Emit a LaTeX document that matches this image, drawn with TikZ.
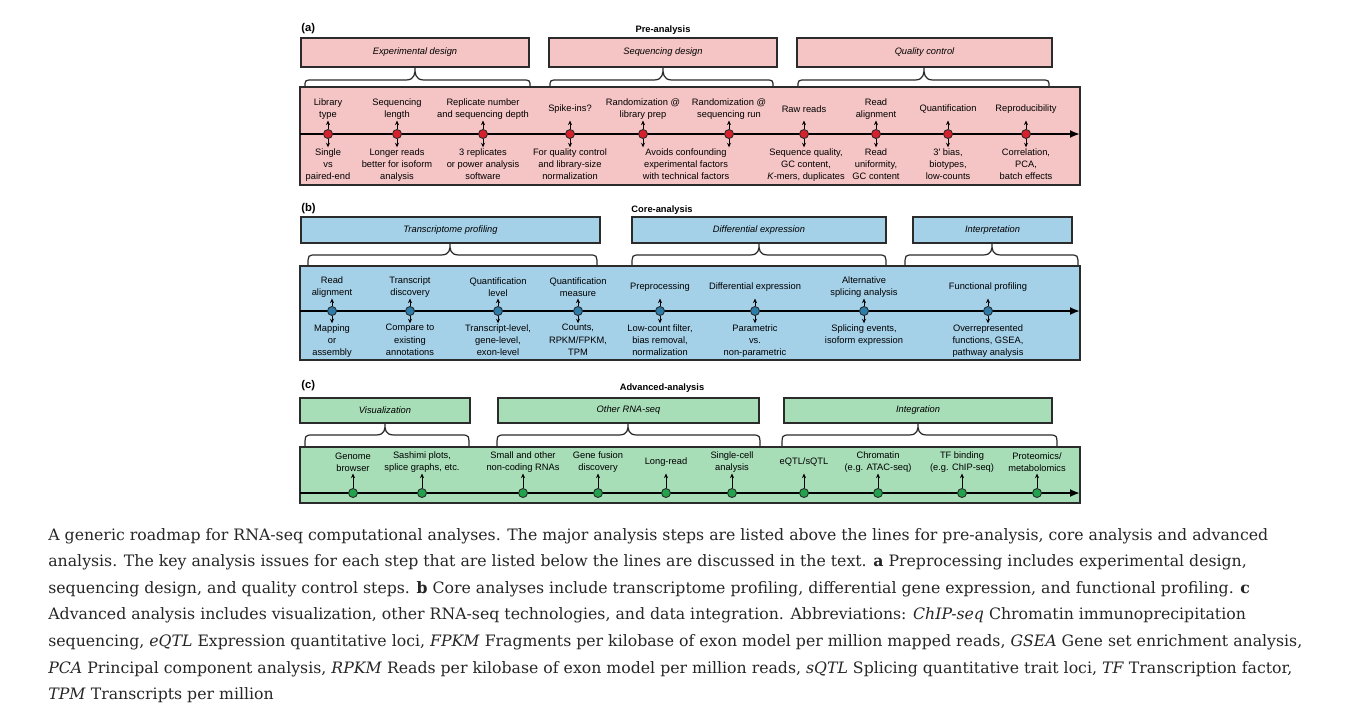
\documentclass[tikz,border=0pt]{standalone}
\usepackage{fontspec}
\setmainfont{DejaVu Serif}
\setsansfont{Liberation Sans}
\usepackage{xcolor}
\usepackage{tikz}
\usetikzlibrary{arrows.meta}
\definecolor{preb}{HTML}{F5C5C5}
\definecolor{coreb}{HTML}{A4D0E8}
\definecolor{advb}{HTML}{A7DDB7}
\definecolor{pred}{HTML}{D8202C}
\definecolor{cored}{HTML}{2C7DAA}
\definecolor{advd}{HTML}{22A24C}
\definecolor{linec}{HTML}{2B2B2B}
\definecolor{capc}{HTML}{262626}
\tikzset{
  lbl/.style={font=\sffamily\fontsize{5.3}{7}\selectfont,align=center,inner sep=0pt},
  toplbl/.style={lbl,minimum height=12pt},
  botlbl/.style={lbl,anchor=north},
  hd/.style={draw=linec,line width=0.8pt},
  hdt/.style={font=\sffamily\itshape\fontsize{5.3}{7}\selectfont,inner sep=0pt},
  bnd/.style={draw=linec,line width=0.8pt},
  brc/.style={draw=linec,line width=0.7pt},
  ax/.style={-{Latex[length=2mm,width=1.6mm]},line width=1.1pt,black},
  tk/.style={-{Stealth[length=0.9mm,width=0.8mm]},line width=0.4pt,black,shorten >=0.4pt},
  nd/.style={circle,draw=linec,line width=0.5pt,minimum size=0.18cm,inner sep=0pt},
  ttl/.style={font=\sffamily\bfseries\fontsize{5.3}{7}\selectfont,inner sep=0pt},
  pnl/.style={font=\sffamily\bfseries\fontsize{6.4}{7}\selectfont,inner sep=0pt,anchor=west},
  captxt/.style={font=\fontsize{8.95}{11}\selectfont,anchor=base west,inner sep=0pt,text=capc}
}
% brace: left x, peak x, right x, peak y, line y, end y
\newcommand{\pbrace}[6]{%
  \draw[brc] (#1,#6) .. controls (#1,#5) .. ({#1+8},#5) -- ({#2-9},#5)
    .. controls (#2,#5) and (#2,{#4+5}) .. (#2,#4)
    .. controls (#2,{#4+5}) and (#2,#5) .. ({#2+9},#5) -- ({#3-8},#5)
    .. controls (#3,#5) .. (#3,#6);}

\begin{document}
\begin{tikzpicture}[x=0.02cm,y=-0.02cm]
\fill[white] (0,0) rectangle (1349,707);
\useasboundingbox (0,0) rectangle (1349,707);

% (a) pre-analysis
\node[pnl] (tla) at (301,29) {(a)};
\node[ttl] (tta) at (663,30) {Pre-analysis};
\draw[bnd,fill=preb] (300,87) rectangle (1080,185);
\draw[hd,fill=preb] (301,38) rectangle (529,67) node[hdt,midway] (ha1) {Experimental design};
\draw[hd,fill=preb] (549,38) rectangle (777,67) node[hdt,midway] (ha2) {Sequencing design};
\draw[hd,fill=preb] (797,38) rectangle (1052,67) node[hdt,midway] (ha3) {Quality control};
\pbrace{305}{415}{530}{68}{80}{87}
\pbrace{550}{663}{773}{68}{80}{87}
\pbrace{798}{924}{1049}{68}{80}{87}
\coordinate (a0) at (300,134);
\coordinate (aend) at (1080,134);
\draw[ax] (a0) -- (aend);
\node[nd,fill=pred] (a1) at (328,134) {};
\node[nd,fill=pred] (a2) at (397,134) {};
\node[nd,fill=pred] (a3) at (483,134) {};
\node[nd,fill=pred] (a4) at (570,134) {};
\node[nd,fill=pred] (a5) at (643,134) {};
\node[nd,fill=pred] (a6) at (729,134) {};
\node[nd,fill=pred] (a7) at (804,134) {};
\node[nd,fill=pred] (a8) at (876,134) {};
\node[nd,fill=pred] (a9) at (948,134) {};
\node[nd,fill=pred] (a10) at (1026,134) {};
\node[toplbl] (ta1) at (328,109) {Library\\type};
\node[toplbl] (ta2) at (397,109) {Sequencing\\length};
\node[toplbl] (ta3) at (483,109) {Replicate number\\and sequencing depth};
\node[toplbl] (ta4) at (570,109) {Spike-ins?};
\node[toplbl] (ta5) at (643,109) {Randomization @\\library prep};
\node[toplbl] (ta6) at (729,109) {Randomization @\\sequencing run};
\node[toplbl] (ta7) at (804,109) {Raw reads};
\node[toplbl] (ta8) at (876,109) {Read\\alignment};
\node[toplbl] (ta9) at (948,109) {Quantification};
\node[toplbl] (ta10) at (1026,109) {Reproducibility};
\node[botlbl] (ba1) at (328,148) {Single\\vs\\paired-end};
\node[botlbl] (ba2) at (397,148) {Longer reads\\better for isoform\\analysis};
\node[botlbl] (ba3) at (483,148) {3 replicates\\or power analysis\\software};
\node[botlbl] (ba4) at (570,148) {For quality control\\and library-size\\normalization};
\node[botlbl] (ba5) at (686,148) {Avoids confounding\\experimental factors\\with technical factors};
\node[botlbl] (ba7) at (806,148) {Sequence quality,\\GC content,\\\textit{K}-mers, duplicates};
\node[botlbl] (ba8) at (876,148) {Read\\uniformity,\\GC content};
\node[botlbl] (ba9) at (948,148) {3′ bias,\\biotypes,\\low-counts};
\node[botlbl] (ba10) at (1026,148) {Correlation,\\PCA,\\batch effects};
\draw[tk] (a1) -- (ta1);
\draw[tk] (a2) -- (ta2);
\draw[tk] (a3) -- (ta3);
\draw[tk] (a4) -- (ta4);
\draw[tk] (a5) -- (ta5);
\draw[tk] (a6) -- (ta6);
\draw[tk] (a7) -- (ta7);
\draw[tk] (a8) -- (ta8);
\draw[tk] (a9) -- (ta9);
\draw[tk] (a10) -- (ta10);
\draw[tk] (a1) -- (a1 |- ba1.north);
\draw[tk] (a2) -- (a2 |- ba2.north);
\draw[tk] (a3) -- (a3 |- ba3.north);
\draw[tk] (a4) -- (a4 |- ba4.north);
\draw[tk] (a5) -- (a5 |- ba5.north);
\draw[tk] (a6) -- (a6 |- ba5.north);
\draw[tk] (a7) -- (a7 |- ba7.north);
\draw[tk] (a8) -- (a8 |- ba8.north);
\draw[tk] (a9) -- (a9 |- ba9.north);
\draw[tk] (a10) -- (a10 |- ba10.north);

% (b) core analysis
\node[pnl] (tlb) at (301,209) {(b)};
\node[ttl] (ttb) at (662,210) {Core-analysis};
\draw[bnd,fill=coreb] (300,266) rectangle (1080,360);
\draw[hd,fill=coreb] (301,217) rectangle (600,243) node[hdt,midway] (hb1) {Transcriptome profiling};
\draw[hd,fill=coreb] (632,217) rectangle (886,243) node[hdt,midway] (hb2) {Differential expression};
\draw[hd,fill=coreb] (913,217) rectangle (1072,243) node[hdt,midway] (hb3) {Interpretation};
\pbrace{308}{450}{597}{244}{255}{266}
\pbrace{632}{759}{886}{244}{255}{266}
\pbrace{905}{992}{1078}{244}{255}{266}
\coordinate (b0) at (300,311);
\coordinate (bend) at (1080,311);
\draw[ax] (b0) -- (bend);
\node[nd,fill=cored] (b1) at (332,311) {};
\node[nd,fill=cored] (b2) at (410,311) {};
\node[nd,fill=cored] (b3) at (498,311) {};
\node[nd,fill=cored] (b4) at (578,311) {};
\node[nd,fill=cored] (b5) at (660,311) {};
\node[nd,fill=cored] (b6) at (755,311) {};
\node[nd,fill=cored] (b7) at (864,311) {};
\node[nd,fill=cored] (b8) at (988,311) {};
\node[toplbl] (tb1) at (332,287) {Read\\alignment};
\node[toplbl] (tb2) at (410,287) {Transcript\\discovery};
\node[toplbl] (tb3) at (498,287) {Quantification\\level};
\node[toplbl] (tb4) at (578,287) {Quantification\\measure};
\node[toplbl] (tb5) at (660,287) {Preprocessing};
\node[toplbl] (tb6) at (755,287) {Differential expression};
\node[toplbl] (tb7) at (864,287) {Alternative\\splicing analysis};
\node[toplbl] (tb8) at (988,287) {Functional profiling};
\node[botlbl] (bb1) at (332,324) {Mapping\\or\\assembly};
\node[botlbl] (bb2) at (410,324) {Compare to\\existing\\annotations};
\node[botlbl] (bb3) at (498,324) {Transcript-level,\\gene-level,\\exon-level};
\node[botlbl] (bb4) at (578,324) {Counts,\\RPKM/FPKM,\\TPM};
\node[botlbl] (bb5) at (660,324) {Low-count filter,\\bias removal,\\normalization};
\node[botlbl] (bb6) at (755,324) {Parametric\\vs.\\non-parametric};
\node[botlbl] (bb7) at (864,324) {Splicing events,\\isoform expression};
\node[botlbl] (bb8) at (988,324) {Overrepresented\\functions, GSEA,\\pathway analysis};
\draw[tk] (b1) -- (tb1);
\draw[tk] (b2) -- (tb2);
\draw[tk] (b3) -- (tb3);
\draw[tk] (b4) -- (tb4);
\draw[tk] (b5) -- (tb5);
\draw[tk] (b6) -- (tb6);
\draw[tk] (b7) -- (tb7);
\draw[tk] (b8) -- (tb8);
\draw[tk] (b1) -- (b1 |- bb1.north);
\draw[tk] (b2) -- (b2 |- bb2.north);
\draw[tk] (b3) -- (b3 |- bb3.north);
\draw[tk] (b4) -- (b4 |- bb4.north);
\draw[tk] (b5) -- (b5 |- bb5.north);
\draw[tk] (b6) -- (b6 |- bb6.north);
\draw[tk] (b7) -- (b7 |- bb7.north);
\draw[tk] (b8) -- (b8 |- bb8.north);

% (c) advanced analysis
\node[pnl] (tlc) at (301,386) {(c)};
\node[ttl] (ttc) at (662,388) {Advanced-analysis};
\draw[bnd,fill=advb] (300,447) rectangle (1080,503);
\draw[hd,fill=advb] (300,398) rectangle (470,423) node[hdt,midway] (hc1) {Visualization};
\draw[hd,fill=advb] (498,398) rectangle (759,423) node[hdt,midway] (hc2) {Other RNA-seq};
\draw[hd,fill=advb] (784,398) rectangle (1052,423) node[hdt,midway] (hc3) {Integration};
\pbrace{305}{385}{469}{424}{435}{447}
\pbrace{497}{628}{760}{424}{435}{447}
\pbrace{782}{918}{1057}{424}{435}{447}
\coordinate (c0) at (300,493);
\coordinate (cend) at (1080,493);
\draw[ax] (c0) -- (cend);
\node[nd,fill=advd] (c1) at (353,493) {};
\node[nd,fill=advd] (c2) at (422,493) {};
\node[nd,fill=advd] (c3) at (523,493) {};
\node[nd,fill=advd] (c4) at (598,493) {};
\node[nd,fill=advd] (c5) at (666,493) {};
\node[nd,fill=advd] (c6) at (732,493) {};
\node[nd,fill=advd] (c7) at (804,493) {};
\node[nd,fill=advd] (c8) at (878,493) {};
\node[nd,fill=advd] (c9) at (962,493) {};
\node[nd,fill=advd] (c10) at (1037,493) {};
\node[toplbl] (tc1) at (353,462) {Genome\\browser};
\node[toplbl] (tc2) at (422,462) {Sashimi plots,\\splice graphs, etc.};
\node[toplbl] (tc3) at (523,462) {Small and other\\non-coding RNAs};
\node[toplbl] (tc4) at (598,462) {Gene fusion\\discovery};
\node[toplbl] (tc5) at (666,462) {Long-read};
\node[toplbl] (tc6) at (732,462) {Single-cell\\analysis};
\node[toplbl] (tc7) at (804,462) {eQTL/sQTL};
\node[toplbl] (tc8) at (878,462) {Chromatin\\(e.g. ATAC-seq)};
\node[toplbl] (tc9) at (962,462) {TF binding\\(e.g. ChIP-seq)};
\node[toplbl] (tc10) at (1037,462) {Proteomics/\\metabolomics};
\draw[tk] (c1) -- (tc1);
\draw[tk] (c2) -- (tc2);
\draw[tk] (c3) -- (tc3);
\draw[tk] (c4) -- (tc4);
\draw[tk] (c5) -- (tc5);
\draw[tk] (c6) -- (tc6);
\draw[tk] (c7) -- (tc7);
\draw[tk] (c8) -- (tc8);
\draw[tk] (c9) -- (tc9);
\draw[tk] (c10) -- (tc10);

% caption
\node[captxt] (cap1) at (48,540) {A generic roadmap for RNA-seq computational analyses. The major analysis steps are listed above the lines for pre-analysis, core analysis and advanced};
\node[captxt] (cap2) at (48,566.6) {analysis. The key analysis issues for each step that are listed below the lines are discussed in the text. \textbf{a} Preprocessing includes experimental design,};
\node[captxt] (cap3) at (48,593.2) {sequencing design, and quality control steps. \textbf{b} Core analyses include transcriptome profiling, differential gene expression, and functional profiling. \textbf{c}};
\node[captxt] (cap4) at (48,619.8) {Advanced analysis includes visualization, other RNA-seq technologies, and data integration. Abbreviations: \textit{ChIP-seq} Chromatin immunoprecipitation};
\node[captxt] (cap5) at (48,646.4) {sequencing, \textit{eQTL} Expression quantitative loci, \textit{FPKM} Fragments per kilobase of exon model per million mapped reads, \textit{GSEA} Gene set enrichment analysis,};
\node[captxt] (cap6) at (48,673) {\textit{PCA} Principal component analysis, \textit{RPKM} Reads per kilobase of exon model per million reads, \textit{sQTL} Splicing quantitative trait loci, \textit{TF} Transcription factor,};
\node[captxt] (cap7) at (48,699.6) {\textit{TPM} Transcripts per million};
\end{tikzpicture}
\end{document}
